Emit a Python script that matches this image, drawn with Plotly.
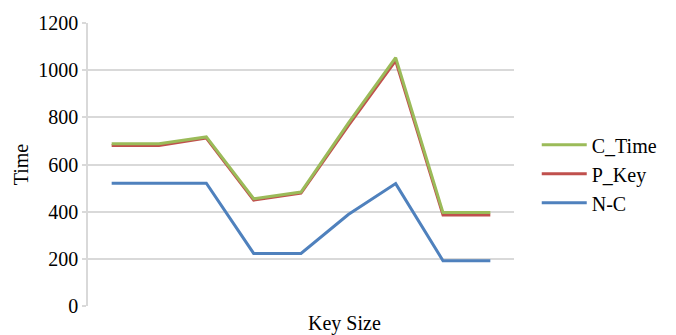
import plotly.graph_objects as go

# Nine key-size cases along the x axis (no tick labels drawn)
key_sizes = ["K1", "K2", "K3", "K4", "K5", "K6", "K7", "K8", "K9"]
c_time = [688, 688, 717, 455, 483, 775, 1053, 396, 396]
p_key = [681, 681, 712, 449, 479, 765, 1040, 386, 386]
n_c = [521, 521, 521, 223, 223, 388, 519, 192, 192]
y_ticks = [0, 200, 400, 600, 800, 1000, 1200]

FONT = "Liberation Serif"
GRID = "#d9d9d9"

fig = go.Figure()
series = [
    ("C_Time", c_time, "#9BBB59"),
    ("P_Key", p_key, "#C0504D"),
    ("N-C", n_c, "#4F81BD"),
]
# draw bottom-most legend item last so green sits on top of red
for name, vals, color in reversed(series):
    fig.add_trace(go.Scatter(
        x=key_sizes, y=vals, name=name, mode="lines",
        line=dict(color=color, width=3),
    ))

fig.update_layout(
    width=676, height=335,
    margin=dict(l=88, r=162, t=21, b=29),
    paper_bgcolor="white", plot_bgcolor="white",
    font=dict(family=FONT, size=20, color="black"),
    showlegend=True,
    legend=dict(
        x=0.794, xanchor="left", xref="container",
        y=0.467, yanchor="middle",
        traceorder="reversed",
        font=dict(family=FONT, size=20),
        itemwidth=45,
        tracegroupgap=0,
        bgcolor="rgba(0,0,0,0)",
    ),
    xaxis=dict(
        type="category",
        showticklabels=False, ticks="",
        showgrid=False, zeroline=False, showline=False,
        range=[-0.5, 8.5],
    ),
    yaxis=dict(
        range=[0, 1200], tickvals=y_ticks,
        showgrid=True, gridcolor=GRID, gridwidth=1.5,
        zeroline=False,
        showline=True, linecolor=GRID, linewidth=1.5,
        ticks="outside", ticklen=4, tickcolor=GRID, tickwidth=1.5,
        tickfont=dict(family=FONT, size=20),
        title=dict(text="Time", font=dict(family=FONT, size=20), standoff=4),
    ),
    annotations=[
        dict(text="Key Size", xref="paper", yref="paper",
             x=0.603, y=0, yshift=-4, xanchor="center", yanchor="top",
             showarrow=False, font=dict(family=FONT, size=20)),
    ],
)

fig.write_html("out.html")
